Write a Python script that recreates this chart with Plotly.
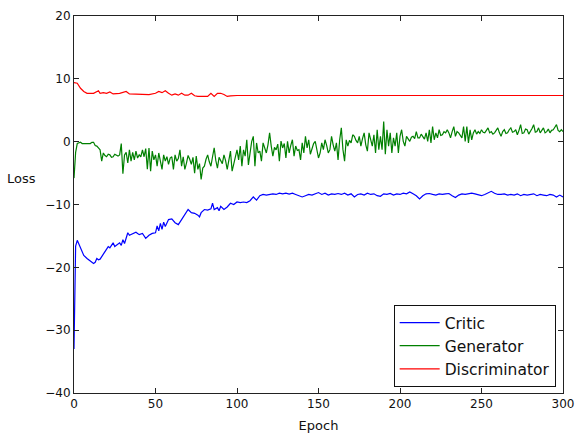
import plotly.graph_objects as go

# ---------------- data ----------------
critic_epochs = [0, 1, 2, 3, 4, 6, 8, 10, 12, 13, 14, 15, 16, 18, 20, 21, 22, 24, 25, 26,
                 28, 29, 30, 31, 32, 33, 34, 36, 38, 40, 42, 44, 46, 48, 50, 51, 52, 53,
                 54, 55, 56, 58, 60, 62, 64, 66, 68, 70, 72, 74, 76, 77, 78, 80, 82, 84,
                 85, 86, 88, 89, 90, 92, 94, 96, 98] + list(range(100, 301, 2))
critic_loss = [-33.0, -16.6, -15.7, -16.35, -17.1, -18.1, -18.6, -19.0, -19.4, -19.2, -18.6,
               -18.8, -18.7, -17.9, -17.2, -16.7, -16.9, -16.1, -16.7, -16.5, -16.1, -16.5,
               -15.6, -16.2, -15.1, -14.5, -14.9, -14.6, -14.4, -14.8, -14.6, -15.4, -14.9,
               -14.6, -14.5, -13.4, -14.2, -13.0, -13.97, -12.8, -13.5, -12.4, -12.3, -12.9,
               -13.2, -12.4, -11.7, -10.8, -11.3, -11.4, -11.7, -11.96, -11.3, -10.8, -10.9,
               -10.7, -9.8, -10.8, -10.5, -11.0, -10.3, -10.8, -10.4, -9.8, -10.0,
               # 100 .. 300 step 2
               -9.6, -9.7, -9.6, -9.7, -9.4, -8.8, -9.3, -8.6, -8.4, -8.5,
               -8.4, -8.3, -8.4, -8.2, -8.3, -8.2, -8.35, -8.2, -8.4, -8.6,
               -8.8, -8.6, -8.4, -8.5, -8.3, -8.1, -8.4, -8.2, -8.5, -8.3,
               -8.4, -8.25, -8.4, -8.2, -8.5, -8.3, -8.8, -8.4, -8.3, -8.5,
               -8.2, -8.4, -8.3, -8.6, -8.7, -8.3, -8.4, -8.25, -8.5, -8.3,
               -8.4, -8.2, -8.3, -8.0, -8.3, -8.6, -9.1, -8.6, -8.3, -8.25,
               -8.4, -8.5, -8.3, -8.4, -8.3, -8.25, -8.6, -8.9, -8.5, -8.3,
               -8.4, -8.3, -8.2, -8.3, -8.5, -8.6, -8.4, -8.2, -7.9, -8.2,
               -8.4, -8.4, -8.3, -8.5, -8.4, -8.5, -8.3, -8.6, -8.4, -8.5,
               -8.4, -8.3, -8.6, -8.4, -8.5, -8.6, -8.4, -8.5, -8.8, -8.5,
               -8.8]

generator_epochs = list(range(0, 301))
generator_loss = [
    # 0-9
    -5.8, -1.7, -0.3, -0.2, -0.1, -0.3, -0.3, -0.2, -0.2, -0.3,
    # 10-19
    -0.3, -0.1, -0.1, -0.6, -0.7, -1.0, -1.3, -3.1, -1.8, -2.2,
    # 20-29
    -2.4, -2.0, -2.1, -2.5, -2.4, -2.0, -2.1, -2.3, -2.1, -0.3,
    # 30-39
    -5.1, -2.1, -1.7, -3.4, -1.3, -3.1, -1.7, -2.9, -1.5, -2.6,
    # 40-49
    -2.1, -2.4, -1.3, -2.4, -1.1, -4.4, -1.0, -4.7, -1.5, -2.9,
    # 50-59
    -2.1, -3.9, -1.8, -2.9, -4.4, -2.1, -3.1, -2.4, -3.6, -2.6,
    # 60-69
    -2.4, -4.4, -2.1, -3.1, -2.7, -1.3, -3.9, -2.4, -4.4, -3.4,
    # 70-79
    -2.2, -2.8, -3.6, -2.5, -5.0, -2.3, -4.4, -3.5, -6.0, -4.2,
    # 80-89
    -3.9, -2.8, -2.1, -3.2, -3.9, -2.4, -1.0, -3.0, -4.2, -2.5,
    # 90-99
    -2.9, -3.5, -2.1, -3.0, -4.4, -2.6, -1.5, -4.7, -3.4, -2.0,
    # 100-109
    -1.3, -2.9, -0.7, -3.9, -1.3, -2.3, 0.3, -3.7, -1.5, 0.0,
    # 110-119
    0.85, -3.9, -0.2, -1.8, -1.5, -3.1, -0.2, -1.0, -1.8, -0.5,
    # 120-129
    1.4, -0.7, -2.3, -0.9, -1.3, -0.4, -3.1, 0.1, -1.0, -0.3,
    # 130-139
    -2.6, 0.05, -1.8, -0.6, 0.3, -2.3, -0.7, -1.4, -1.27, -2.9,
    # 140-149
    -0.2, -1.8, 0.85, -1.0, 0.3, -2.0, -1.27, -0.3, 0.05, -1.2,
    # 150-159
    -2.6, -1.8, -0.2, -1.27, 0.3, -0.6, -1.8, -1.27, 0.85, -0.5,
    # 160-169
    -1.5, -0.2, -2.9, 0.3, 2.2, -1.27, -3.1, 0.3, -0.7, 0.2,
    # 170-179
    -0.2, 1.1, 0.85, 0.2, -0.2, 0.85, -0.7, 0.5, 1.4, -0.5,
    # 180-189
    -1.5, 1.4, 0.3, -0.7, 1.1, -1.8, 1.9, -1.27, 0.85, -1.27,
    # 190-199
    3.2, -2.0, 1.9, -0.7, 1.4, -1.8, 0.6, -0.7, 1.4, -1.8,
    # 200-209
    0.85, 1.9, 0.05, -0.7, 0.85, 0.4, 0.05, 0.7, 0.85, 0.5,
    # 210-219
    1.6, 0.6, 0.6, 1.2, 0.85, 0.4, 1.4, 0.05, 1.9, -0.2,
    # 220-229
    2.4, 0.3, 1.4, 0.6, 1.9, 1.0, 1.1, 1.6, 1.4, 1.9,
    # 230-239
    1.4, 0.6, 1.6, 2.4, 0.85, 1.6, 1.4, 0.9, 0.6, 2.4,
    # 240-249
    0.05, 2.4, -0.2, 1.9, 0.3, 1.4, 1.9, 1.2, 1.6, 1.3,
    # 250-259
    1.9, 1.5, 1.4, 1.8, 2.2, 1.4, 1.6, 1.2, 1.4, 1.8,
    # 260-269
    2.2, 1.4, 0.85, 1.6, 1.9, 1.3, 1.4, 1.9, 2.2, 1.5,
    # 270-279
    1.6, 1.9, 1.1, 1.8, 2.7, 1.3, 1.4, 2.0, 1.9, 1.2,
    # 280-289
    1.6, 2.1, 2.7, 1.5, 1.6, 2.2, 1.4, 1.9, 2.2, 1.4,
    # 290-300
    1.6, 2.0, 1.4, 1.8, 1.9, 2.3, 2.7, 1.8, 1.6, 1.9, 1.6,
]

discriminator_epochs = [0, 2, 4, 6, 8, 12, 15, 16, 18, 20, 22, 24, 28, 32, 34, 40, 46, 50,
                        52, 54, 56, 58, 60, 62, 64, 66, 68, 70, 72, 74, 76, 80, 82, 84, 86,
                        88, 90, 92, 94, 96, 100, 300]
discriminator_loss = [9.4, 9.3, 8.5, 8.0, 7.7, 7.7, 8.1, 7.7, 7.8, 7.7, 7.9, 7.6, 7.7, 8.0,
                      7.6, 7.5, 7.5, 7.7, 8.0, 7.8, 8.1, 7.7, 7.4, 7.6, 7.4, 7.7, 7.4, 7.4,
                      7.7, 7.3, 7.2, 7.2, 7.2, 7.7, 7.2, 7.7, 7.7, 7.5, 7.2, 7.3, 7.35, 7.35]

x_ticks = [0, 50, 100, 150, 200, 250, 300]
y_ticks = [-40, -30, -20, -10, 0, 10, 20]

FONT = "DejaVu Sans"

fig = go.Figure()
fig.add_trace(go.Scatter(x=critic_epochs, y=critic_loss, mode="lines", name="Critic",
                         line=dict(color="#0000ff", width=1.2)))
fig.add_trace(go.Scatter(x=generator_epochs, y=generator_loss, mode="lines", name="Generator",
                         line=dict(color="#008000", width=1.2)))
fig.add_trace(go.Scatter(x=discriminator_epochs, y=discriminator_loss, mode="lines",
                         name="Discriminator", line=dict(color="#ff0000", width=1.2)))

axis_common = dict(showgrid=False, zeroline=False, showline=True, linecolor="#222222",
                   linewidth=1, mirror="allticks", ticks="inside", ticklen=5,
                   tickcolor="#222222", automargin=False,
                   tickfont=dict(family=FONT, size=12, color="#111111"))

fig.update_xaxes(range=[0, 300], tickvals=x_ticks,
                 title=dict(text="Epoch", font=dict(family=FONT, size=13, color="#111111"),
                            standoff=10),
                 **axis_common)
fig.update_yaxes(range=[-40, 20], tickvals=y_ticks, **axis_common)

fig.add_annotation(text="Loss", xref="paper", yref="paper", x=-0.074, y=0.568,
                   xanchor="right", yanchor="middle", showarrow=False,
                   font=dict(family=FONT, size=13, color="#111111"))

fig.update_layout(
    width=575, height=434,
    margin=dict(l=74, r=12, t=16, b=41),
    plot_bgcolor="white", paper_bgcolor="white",
    legend=dict(x=0.985, y=0.016, xanchor="right", yanchor="bottom",
                bordercolor="#111111", borderwidth=1, bgcolor="white",
                font=dict(family=FONT, size=15.5, color="#111111"),
                tracegroupgap=0, itemwidth=40),
)

fig.write_html("out.html",
               config={"displayModeBar": False},
               post_script="document.body.style.margin='0';document.body.style.overflow='hidden';")
